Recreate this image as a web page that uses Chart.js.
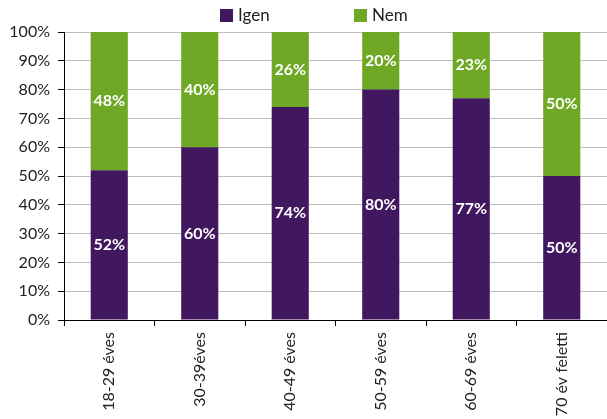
<!DOCTYPE html>
<html>
<head>
<meta charset="utf-8">
<script src="https://cdn.jsdelivr.net/npm/chart.js@4/dist/chart.umd.min.js"></script>
<style>
  body { margin: 0; background: #fff; }
  #wrap { width: 607px; height: 419px; }
</style>
</head>
<body>
<div id="wrap"><canvas id="myChart" width="607" height="419"></canvas></div>
<script>
const categories = ["18-29 éves", "30-39éves", "40-49 éves", "50-59 éves", "60-69 éves", "70 év feletti"]
const igen = [52, 60, 74, 80, 77, 50]
const nem = [48, 40, 26, 20, 23, 50]

const purple = "#41175F"
const green = "#6EA824"
const fontFamily = "Lato, 'Open Sans', sans-serif"

// writes the percent values in the middle of each bar piece
const barLabels = {
    id: 'barLabels',
    afterDatasetsDraw(chart) {
        const ctx = chart.ctx
        ctx.save()
        ctx.fillStyle = "#fff"
        ctx.font = "bold 16px " + fontFamily
        ctx.textAlign = "center"
        ctx.textBaseline = "middle"
        chart.data.datasets.forEach((ds, i) => {
            chart.getDatasetMeta(i).data.forEach((bar, j) => {
                const p = bar.getCenterPoint()
                ctx.fillText(ds.data[j] + "%", p.x, p.y)
            })
        })
        ctx.restore()
    }
}

// legend drawn by hand, the built in one packs the items too close
const topLegend = {
    id: 'topLegend',
    afterDraw(chart) {
        const ctx = chart.ctx
        const startX = [220, 354]
        ctx.save()
        ctx.font = "17px " + fontFamily
        ctx.textBaseline = "middle"
        chart.data.datasets.forEach((ds, i) => {
            ctx.fillStyle = ds.backgroundColor
            ctx.fillRect(startX[i], 9, 13, 13)
            ctx.fillStyle = "#222"
            ctx.fillText(ds.label, startX[i] + 18, 16)
        })
        ctx.restore()
    }
}

const ctx = document.getElementById("myChart").getContext("2d")

new Chart(ctx, {
    type: 'bar',
    data: {
        labels: categories,
        datasets: [
            { label: "Igen", data: igen, backgroundColor: purple },
            { label: "Nem", data: nem, backgroundColor: green }
        ]
    },
    options: {
        responsive: false,
        animation: false,
        categoryPercentage: 1,
        barPercentage: 0.41,
        layout: { padding: { left: 0, right: 0, top: 32, bottom: 0 } },
        plugins: {
            tooltip: { enabled: false },
            legend: { display: false }
        },
        scales: {
            x: {
                stacked: true,
                afterFit: s => { s.height = 99 },
                border: { color: "#000", width: 1 },
                grid: { drawOnChartArea: false, drawTicks: true, tickLength: 6, color: "#000" },
                ticks: {
                    minRotation: 90,
                    maxRotation: 90,
                    padding: 6,
                    color: "#222",
                    font: { family: fontFamily, size: 16 }
                }
            },
            y: {
                stacked: true,
                min: 0,
                max: 100,
                afterFit: s => { s.width = 64 },
                border: { color: "#000", width: 1 },
                grid: { color: "#bdbdbd", tickColor: "#000", tickLength: 6 },
                ticks: {
                    stepSize: 10,
                    padding: 8,
                    color: "#222",
                    font: { family: fontFamily, size: 16 },
                    callback: v => v + "%"
                }
            }
        }
    },
    plugins: [barLabels, topLegend]
})
</script>
</body>
</html>
